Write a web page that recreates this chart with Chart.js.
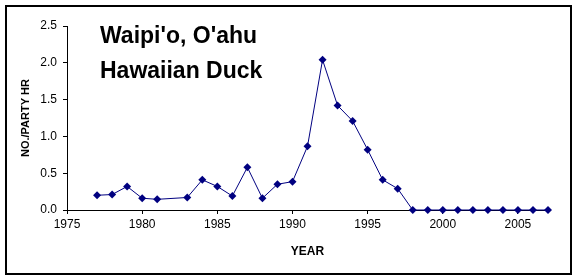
<!DOCTYPE html>
<html>
<head>
<meta charset="utf-8">
<script src="https://cdn.jsdelivr.net/npm/chart.js@4/dist/chart.umd.min.js"></script>
<style>
  html, body { margin: 0; padding: 0; background: #fff; }
  #wrap { position: relative; width: 576px; height: 279px; }
</style>
</head>
<body>
<div id="wrap"><canvas id="c" width="576" height="279"></canvas></div>
<script>
const years = [1977, 1978, 1979, 1980, 1981, 1983, 1984, 1985, 1986, 1987, 1988, 1989, 1990, 1991, 1992, 1993, 1994, 1995, 1996, 1997, 1998, 1999, 2000, 2001, 2002, 2003, 2004, 2005, 2006, 2007];
const birdsPerPartyHour = [0.20, 0.21, 0.32, 0.16, 0.145, 0.17, 0.41, 0.32, 0.19, 0.58, 0.16, 0.35, 0.385, 0.865, 2.04, 1.42, 1.21, 0.82, 0.41, 0.29, 0, 0, 0, 0, 0, 0, 0, 0, 0, 0];
const titleLines = ["Waipi'o, O'ahu", "Hawaiian Duck"];
const xAxisTitle = "YEAR";
const yAxisTitle = "NO./PARTY HR";

const FONT = "'Liberation Sans', Arial, sans-serif";
const NAVY = '#000080';

const points = years.map((y, i) => ({ x: y, y: birdsPerPartyHour[i] }));

const framePlugin = {
  id: 'frame',
  afterDraw(chart) {
    const ctx = chart.ctx;
    ctx.save();
    ctx.strokeStyle = '#000';
    ctx.lineWidth = 2;
    ctx.strokeRect(6, 6, 565, 268);
    ctx.fillStyle = '#000';
    ctx.font = 'bold 23px ' + FONT;
    ctx.textBaseline = 'alphabetic';
    ctx.textAlign = 'left';
    ctx.fillText(titleLines[0], 100, 43);
    ctx.fillText(titleLines[1], 100, 78);
    ctx.restore();
  }
};

new Chart(document.getElementById('c'), {
  type: 'scatter',
  data: {
    datasets: [{
      data: points,
      showLine: true,
      clip: false,
      borderColor: NAVY,
      backgroundColor: NAVY,
      borderWidth: 1,
      pointStyle: 'rectRot',
      pointRadius: 4,
      pointBorderWidth: 0,
      pointBackgroundColor: NAVY,
      tension: 0
    }]
  },
  options: {
    responsive: false,
    animation: false,
    devicePixelRatio: 1,
    layout: { autoPadding: false, padding: { left: 0, top: 26, right: 28, bottom: 0 } },
    plugins: { legend: { display: false }, tooltip: { enabled: false } },
    scales: {
      x: {
        type: 'linear',
        min: 1975,
        max: 2007,
        afterBuildTicks(scale) {
          scale.ticks = scale.ticks.filter(t => t.value % 5 === 0);
        },
        afterFit(scale) { scale.height = 69; },
        ticks: {
          stepSize: 5,
          includeBounds: false,
          autoSkip: false,
          color: '#000',
          font: { family: FONT, size: 12 },
          padding: 3,
          maxRotation: 0,
          callback: v => String(v)
        },
        grid: { drawOnChartArea: false, tickLength: 4, color: '#000', tickColor: '#000' },
        border: { display: true, color: '#000', width: 1 },
        title: {
          display: true,
          text: xAxisTitle,
          color: '#000',
          font: { family: FONT, size: 12, weight: 'bold' },
          padding: { top: 0, bottom: 20 }
        }
      },
      y: {
        min: 0,
        max: 2.5,
        afterFit(scale) { scale.width = 67; },
        ticks: {
          stepSize: 0.5,
          color: '#000',
          font: { family: FONT, size: 12 },
          padding: 6,
          callback: v => Number(v).toFixed(1)
        },
        grid: { drawOnChartArea: false, tickLength: 4, color: '#000', tickColor: '#000' },
        border: { display: true, color: '#000', width: 1 },
        title: {
          display: true,
          text: yAxisTitle,
          color: '#000',
          font: { family: FONT, size: 11, weight: 'bold' },
          padding: { top: 19, bottom: 0 }
        }
      }
    }
  },
  plugins: [framePlugin]
});
</script>
</body>
</html>
